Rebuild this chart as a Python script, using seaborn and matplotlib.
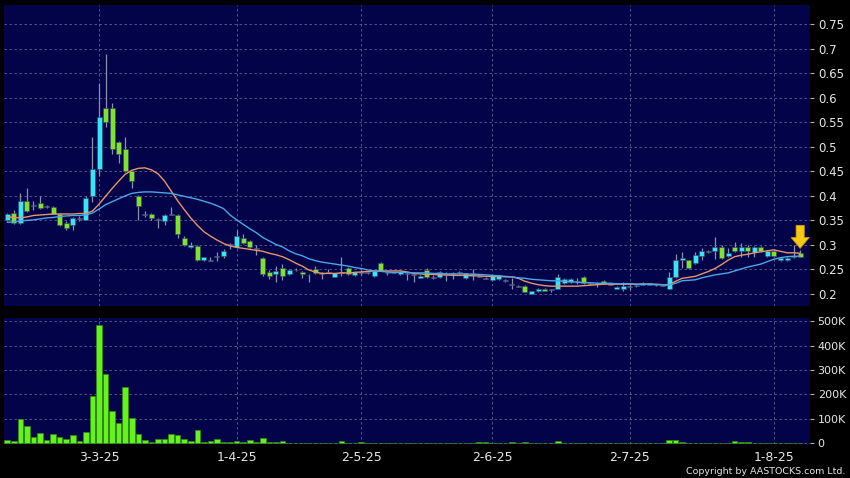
import matplotlib
matplotlib.use('Agg')
import matplotlib.pyplot as plt
import seaborn as sns
import numpy as np

# trading day index (0 = 3-3-25)
day = np.arange(-14, 108)

opens = [0.351, 0.365, 0.345, 0.389, 0.380, 0.385, 0.378, 0.378, 0.364, 0.345,
         0.340, 0.354, 0.351, 0.400, 0.455, 0.579, 0.579, 0.510, 0.496, 0.450,
         0.400, 0.362, 0.364, 0.352, 0.349, 0.362, 0.361, 0.315, 0.295, 0.298,
         0.269, 0.269, 0.277, 0.277, 0.300, 0.295, 0.315, 0.308, 0.293, 0.274,
         0.245, 0.240, 0.254, 0.241, 0.249, 0.245, 0.239, 0.250, 0.242, 0.243,
         0.235, 0.244, 0.254, 0.238, 0.244, 0.243, 0.236, 0.264, 0.244, 0.243,
         0.240, 0.242, 0.240, 0.233, 0.249, 0.234, 0.234, 0.240, 0.242, 0.244,
         0.232, 0.238, 0.236, 0.232, 0.228, 0.230, 0.227, 0.220, 0.216, 0.217,
         0.201, 0.207, 0.211, 0.209, 0.211, 0.223, 0.225, 0.226, 0.235, 0.223,
         0.222, 0.226, 0.220, 0.211, 0.210, 0.215, 0.217, 0.219, 0.219, 0.219,
         0.218, 0.211, 0.235, 0.269, 0.269, 0.264, 0.278, 0.288, 0.288, 0.295,
         0.278, 0.295, 0.288, 0.295, 0.285, 0.295, 0.278, 0.288, 0.269, 0.269,
         0.276, 0.284]
highs = [0.365, 0.372, 0.406, 0.416, 0.389, 0.399, 0.381, 0.380, 0.366, 0.348,
         0.357, 0.358, 0.400, 0.520, 0.630, 0.689, 0.589, 0.512, 0.520, 0.452,
         0.402, 0.370, 0.366, 0.354, 0.362, 0.378, 0.363, 0.318, 0.305, 0.300,
         0.276, 0.275, 0.285, 0.292, 0.304, 0.330, 0.323, 0.310, 0.300, 0.276,
         0.248, 0.258, 0.262, 0.251, 0.252, 0.247, 0.241, 0.258, 0.245, 0.250,
         0.243, 0.276, 0.256, 0.246, 0.249, 0.245, 0.249, 0.266, 0.247, 0.244,
         0.246, 0.244, 0.245, 0.238, 0.252, 0.239, 0.247, 0.245, 0.245, 0.247,
         0.243, 0.250, 0.238, 0.234, 0.240, 0.239, 0.230, 0.232, 0.218, 0.219,
         0.207, 0.212, 0.212, 0.211, 0.241, 0.232, 0.232, 0.232, 0.237, 0.225,
         0.225, 0.228, 0.222, 0.216, 0.224, 0.220, 0.219, 0.224, 0.223, 0.221,
         0.220, 0.245, 0.282, 0.286, 0.270, 0.286, 0.294, 0.290, 0.316, 0.300,
         0.294, 0.306, 0.304, 0.300, 0.298, 0.297, 0.290, 0.290, 0.276, 0.276,
         0.300, 0.290]
lows = [0.348, 0.343, 0.343, 0.368, 0.372, 0.374, 0.375, 0.362, 0.339, 0.331,
        0.331, 0.349, 0.350, 0.388, 0.440, 0.541, 0.486, 0.467, 0.449, 0.416,
        0.351, 0.357, 0.351, 0.334, 0.340, 0.360, 0.315, 0.298, 0.293, 0.268,
        0.268, 0.268, 0.268, 0.273, 0.292, 0.293, 0.302, 0.294, 0.280, 0.237,
        0.230, 0.225, 0.228, 0.238, 0.246, 0.233, 0.225, 0.241, 0.230, 0.242,
        0.234, 0.237, 0.239, 0.236, 0.239, 0.241, 0.235, 0.246, 0.239, 0.242,
        0.239, 0.229, 0.225, 0.232, 0.233, 0.230, 0.233, 0.226, 0.230, 0.241,
        0.231, 0.229, 0.234, 0.230, 0.227, 0.228, 0.224, 0.211, 0.214, 0.204,
        0.200, 0.205, 0.206, 0.205, 0.210, 0.221, 0.223, 0.220, 0.221, 0.219,
        0.215, 0.221, 0.218, 0.210, 0.207, 0.209, 0.215, 0.218, 0.218, 0.217,
        0.216, 0.210, 0.233, 0.254, 0.250, 0.262, 0.270, 0.283, 0.272, 0.272,
        0.276, 0.285, 0.276, 0.276, 0.276, 0.286, 0.276, 0.276, 0.268, 0.268,
        0.274, 0.275]
closes = [0.362, 0.345, 0.389, 0.370, 0.380, 0.376, 0.378, 0.364, 0.341, 0.334,
          0.355, 0.354, 0.396, 0.455, 0.561, 0.550, 0.496, 0.485, 0.451, 0.430,
          0.380, 0.362, 0.354, 0.352, 0.360, 0.362, 0.323, 0.300, 0.300, 0.269,
          0.275, 0.269, 0.277, 0.288, 0.300, 0.318, 0.304, 0.295, 0.293, 0.240,
          0.237, 0.247, 0.237, 0.249, 0.249, 0.240, 0.238, 0.242, 0.242, 0.243,
          0.242, 0.244, 0.240, 0.245, 0.244, 0.243, 0.247, 0.247, 0.244, 0.243,
          0.244, 0.242, 0.240, 0.236, 0.234, 0.234, 0.245, 0.240, 0.242, 0.244,
          0.242, 0.243, 0.236, 0.232, 0.238, 0.238, 0.227, 0.220, 0.216, 0.205,
          0.206, 0.210, 0.207, 0.209, 0.234, 0.230, 0.230, 0.226, 0.222, 0.220,
          0.222, 0.222, 0.220, 0.215, 0.216, 0.215, 0.217, 0.222, 0.222, 0.219,
          0.218, 0.235, 0.269, 0.274, 0.254, 0.279, 0.288, 0.285, 0.295, 0.274,
          0.284, 0.288, 0.295, 0.288, 0.295, 0.288, 0.288, 0.278, 0.274, 0.274,
          0.276, 0.276]
volumes = [13600, 9500, 98000, 71000, 27000, 42000, 15000, 38000, 27000, 18000,
           35000, 8000, 46000, 195000, 483000, 283000, 131000, 82000, 229000, 105000,
           38000, 15000, 7000, 16000, 16000, 38000, 33000, 19000, 8000, 53000,
           4000, 11000, 16000, 5000, 5000, 9500, 4000, 12000, 5000, 20000,
           4000, 4000, 9500, 2000, 0, 3000, 3000, 3000, 0, 1000,
           2000, 9500, 2000, 1000, 4000, 0, 2000, 3000, 0, 1000,
           1000, 0, 0, 2000, 3000, 0, 2000, 0, 0, 1000,
           2000, 2000, 4000, 4000, 1000, 1000, 0, 5000, 1000, 5000,
           2000, 3000, 1000, 0, 9500, 2000, 1000, 0, 2000, 1000,
           0, 1000, 0, 1000, 1000, 0, 0, 1000, 1000, 0,
           0, 12000, 12000, 4000, 3000, 2000, 3000, 1000, 3000, 2000,
           1000, 9500, 4000, 4000, 2000, 1000, 1000, 0, 1000, 1000,
           0, 2000]
ma_fast = [0.357, 0.356, 0.355, 0.357, 0.360, 0.361, 0.362, 0.363, 0.363, 0.363,
           0.363, 0.364, 0.364, 0.369, 0.383, 0.399, 0.415, 0.430, 0.444, 0.452,
           0.456, 0.457, 0.453, 0.445, 0.430, 0.410, 0.390, 0.372, 0.355, 0.340,
           0.327, 0.318, 0.310, 0.303, 0.298, 0.295, 0.293, 0.291, 0.289, 0.287,
           0.283, 0.280, 0.276, 0.270, 0.263, 0.257, 0.249, 0.245, 0.242, 0.242,
           0.242, 0.243, 0.243, 0.244, 0.245, 0.246, 0.247, 0.247, 0.247, 0.247,
           0.247, 0.245, 0.242, 0.241, 0.240, 0.240, 0.239, 0.239, 0.238, 0.238,
           0.238, 0.237, 0.237, 0.236, 0.236, 0.236, 0.235, 0.235, 0.232, 0.226,
           0.222, 0.219, 0.217, 0.216, 0.216, 0.216, 0.216, 0.216, 0.217, 0.218,
           0.219, 0.220, 0.220, 0.220, 0.220, 0.220, 0.220, 0.220, 0.220, 0.220,
           0.219, 0.219, 0.226, 0.232, 0.234, 0.236, 0.241, 0.246, 0.252, 0.260,
           0.269, 0.276, 0.279, 0.281, 0.284, 0.286, 0.288, 0.290, 0.287, 0.284,
           0.284, 0.283]
ma_slow = [0.346, 0.347, 0.349, 0.350, 0.351, 0.353, 0.355, 0.356, 0.358, 0.359,
           0.360, 0.360, 0.361, 0.365, 0.373, 0.382, 0.388, 0.394, 0.400, 0.405,
           0.407, 0.408, 0.408, 0.407, 0.406, 0.405, 0.402, 0.399, 0.396, 0.393,
           0.389, 0.385, 0.380, 0.374, 0.361, 0.351, 0.342, 0.333, 0.325, 0.315,
           0.308, 0.301, 0.296, 0.288, 0.282, 0.278, 0.272, 0.268, 0.265, 0.263,
           0.261, 0.259, 0.257, 0.254, 0.252, 0.249, 0.247, 0.246, 0.245, 0.244,
           0.244, 0.244, 0.243, 0.243, 0.243, 0.242, 0.242, 0.241, 0.241, 0.241,
           0.241, 0.240, 0.240, 0.239, 0.238, 0.237, 0.236, 0.235, 0.233, 0.232,
           0.230, 0.229, 0.228, 0.227, 0.227, 0.226, 0.225, 0.224, 0.223, 0.223,
           0.222, 0.222, 0.222, 0.221, 0.221, 0.221, 0.220, 0.220, 0.220, 0.219,
           0.219, 0.218, 0.222, 0.227, 0.228, 0.229, 0.233, 0.236, 0.239, 0.241,
           0.243, 0.247, 0.251, 0.255, 0.258, 0.261, 0.266, 0.271, 0.274, 0.276,
           0.277, 0.277]

tick_days = [0, 21, 40, 60, 81, 103]
tick_labels = ['3-3-25', '1-4-25', '2-5-25', '2-6-25', '2-7-25', '1-8-25']
price_ticks = [0.2, 0.25, 0.3, 0.35, 0.4, 0.45, 0.5, 0.55, 0.6, 0.65, 0.7, 0.75]
price_labels = ['0.2', '0.25', '0.3', '0.35', '0.4', '0.45', '0.5', '0.55',
                '0.6', '0.65', '0.7', '0.75']
vol_ticks = [0, 100000, 200000, 300000, 400000, 500000]
vol_labels = ['0', '100K', '200K', '300K', '400K', '500K']

NAVY = '#020348'
CYAN = '#36e6f6'
GREEN = '#7fe22c'
GREY = '#a8aec8'
WICK = '#8c90aa'
VGREEN = '#66f21c'
GRID = '#5e5f92'
TEXT = '#e6e6e6'

sns.set_style('dark', rc={'axes.facecolor': NAVY, 'figure.facecolor': 'black',
                          'axes.edgecolor': NAVY})
plt.rcParams['font.family'] = ['DejaVu Sans']

fig = plt.figure(figsize=(8.5, 4.78), dpi=100)
ax = fig.add_axes([4 / 850, 1 - 306 / 478, 806 / 850, 301 / 478])
axv = fig.add_axes([4 / 850, 1 - 444 / 478, 806 / 850, 126 / 478])

# candles
o = np.array(opens)
c = np.array(closes)
colors = np.where(c > o, CYAN, np.where(c < o, GREEN, GREY))
flat = c == o
body = np.where(flat, 0.0018, c - o)
base = np.where(flat, o - 0.0009, o)
ax.vlines(day, lows, highs, color=WICK, lw=0.9, zorder=3)
ax.bar(day, body, bottom=base, width=0.76, color=colors,
       edgecolor='#30406a', linewidth=0.4, zorder=4)

# moving averages
sns.lineplot(x=day, y=ma_fast, ax=ax, color='#e99468', lw=1.0, zorder=5)
sns.lineplot(x=day, y=ma_slow, ax=ax, color='#4aa6e8', lw=1.0, zorder=5)

# marker arrow on last session
ax.annotate('', xy=(day[-1], highs[-1] + 0.003), xytext=(0, 23),
            textcoords='offset pixels',
            arrowprops=dict(arrowstyle='simple,head_length=0.6,head_width=1.0,tail_width=0.45',
                            fc='#f6c814', ec='#c99a00', lw=0.6,
                            shrinkA=0, shrinkB=0, mutation_scale=13),
            zorder=6)

# volume
sns.barplot(x=day, y=volumes, ax=axv, native_scale=True, color=VGREEN,
            saturation=1, width=0.85, edgecolor='#2f8a12', linewidth=0.5,
            errorbar=None, zorder=3)

for a in (ax, axv):
    a.set_xlim(-14.5, 108.5)
    a.set_xticks(tick_days)
    a.grid(True, color=GRID, ls=(0, (3, 3)), lw=0.6, zorder=0)
    a.set_axisbelow(True)
    a.yaxis.tick_right()
    a.tick_params(axis='y', colors=TEXT, labelsize=8.5, length=3, pad=3,
                  color='#b0b0b0', width=0.8)
    a.set_xlabel('')
    a.set_ylabel('')
    for s in a.spines.values():
        s.set_visible(False)

ax.set_ylim(0.1756, 0.7887)
ax.set_yticks(price_ticks)
ax.set_yticklabels(price_labels)
ax.tick_params(axis='x', length=0, labelbottom=False)

axv.set_ylim(-3000, 513500)
axv.set_yticks(vol_ticks)
axv.set_yticklabels(vol_labels)
axv.tick_params(axis='y', labelsize=8, pad=2.5)
axv.set_xticklabels(tick_labels)
axv.tick_params(axis='x', colors=TEXT, labelsize=9, length=3, pad=2,
                color='#b0b0b0', width=0.8)

fig.text(845 / 850, 1 - 472 / 478, 'Copyright by AASTOCKS.com Ltd.',
         ha='right', va='center', color=TEXT, fontsize=6.8)

fig.savefig('out.png', dpi=100, facecolor='black')
